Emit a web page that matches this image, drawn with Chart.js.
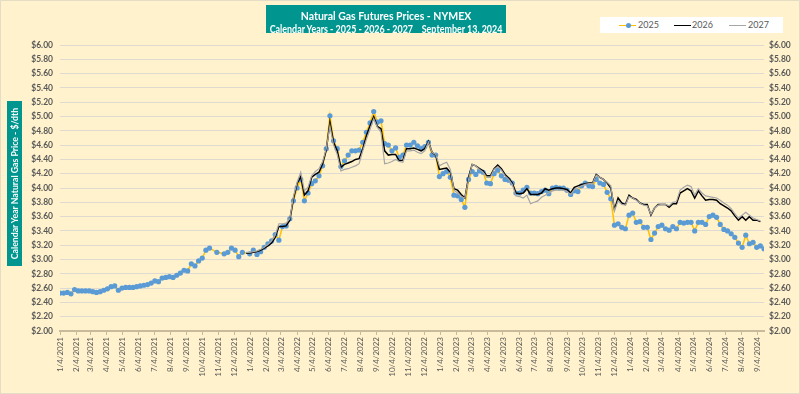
<!DOCTYPE html>
<html>
<head>
<meta charset="utf-8">
<script src="https://cdn.jsdelivr.net/npm/chart.js@4/dist/chart.umd.min.js"></script>
<style>
  body { margin: 0; background: #fff; }
  #wrap { position: relative; width: 800px; height: 394px; background: #FFF2CC; box-sizing: border-box; border: 1px solid #e4dcc4; overflow: hidden; }
  #c { position: absolute; left: 0; top: 0; }
  .teal { position: absolute; background: #00968F; color: #fff; font-family: Lato, sans-serif; font-weight: bold; text-align: center; white-space: pre; }
  #title { left: 265px; top: 4px; width: 240px; height: 28px; }
  #title .l1 { position: absolute; left: -40px; right: -40px; top: 4px; font-size: 12px; line-height: 14px; transform: scaleX(0.875); }
  #title .l2 { position: absolute; left: -40px; right: -40px; top: 18px; font-size: 10.5px; line-height: 12px; transform: scaleX(0.85); }
  #ytitle { left: -69px; top: 175px; width: 165px; height: 15px; }
  #ytitle span { position: absolute; left: -30px; right: -30px; top: 0; line-height: 15px; font-size: 10px; transform: scaleX(0.87); }
  #ytitle { transform: rotate(-90deg); }
  #legend { position: absolute; left: 599px; top: 16px; width: 183px; height: 16px; background: #fff; font-family: Lato, sans-serif; font-size: 9px; color: #595959; }
  #legend .sw { position: absolute; top: 7.5px; width: 17px; height: 0; border-top: 1.5px solid; }
  #legend .dot { position: absolute; top: 5.5px; width: 5px; height: 5px; border-radius: 50%; background: #5B9BD5; }
  #legend .tx { position: absolute; top: 2px; line-height: 12px; }
</style>
</head>
<body>
<div id="wrap">
  <canvas id="c" width="800" height="394"></canvas>
  <div id="title" class="teal">
    <div class="l1">Natural Gas Futures Prices - NYMEX</div>
    <div class="l2">Calendar Years - 2025 - 2026 - 2027    September 13, 2024</div>
  </div>
  <div id="ytitle" class="teal"><span>Calendar Year Natural Gas Price - $/dth</span></div>
  <div id="legend">
    <div class="sw" style="left:19px;border-color:#FFC000"></div>
    <div class="dot" style="left:25.5px"></div>
    <div class="tx" style="left:38px">2025</div>
    <div class="sw" style="left:74px;border-color:#000"></div>
    <div class="tx" style="left:92px">2026</div>
    <div class="sw" style="left:129px;border-color:#a6a6a6"></div>
    <div class="tx" style="left:148px">2027</div>
  </div>
</div>
<script>
// weekly settlement strip, first week = 1/4/2021
const firstWeek = '1/4/2021';

const price2025 = [
  2.53, 2.53, 2.54, 2.52, 2.58, 2.56, 2.56, 2.56, 2.56, 2.55,
  2.54, 2.55, 2.57, 2.59, 2.62, 2.63, 2.57, 2.60, 2.61, 2.61,
  2.61, 2.62, 2.63, 2.64, 2.65, 2.67, 2.70, 2.69, 2.74, 2.75,
  2.76, 2.75, 2.78, 2.81, 2.85, 2.84, 2.94, 2.91, 2.98, 3.02,
  3.13, 3.16, null, 3.10, null, 3.08, 3.10, 3.16, 3.13, 3.04,
  3.10, null, 3.08, 3.13, 3.07, 3.11, 3.17, 3.22, 3.26, 3.35,
  3.27, 3.46, 3.47, 3.57, 3.82, 4.00, 4.12, 3.82, 3.93, 4.06,
  4.10, 4.17, 4.31, 4.55, 5.01, 4.66, 4.55, 4.30, 4.38, 4.46,
  4.52, 4.52, 4.53, 4.64, 4.78, 4.91, 5.07, 4.92, 4.94, 4.62,
  4.60, 4.52, 4.56, 4.43, 4.46, 4.60, 4.60, 4.64, 4.59, 4.55,
  4.58, 4.64, 4.46, 4.46, 4.16, 4.20, 4.23, 4.15, 3.90, 3.89,
  3.84, 3.73, 4.12, 4.23, 4.19, 4.24, 4.22, 4.07, 4.06, 4.20,
  4.25, 4.17, 4.12, 4.11, 4.07, 3.93, 3.93, 3.97, 4.01, 3.93,
  3.93, 3.92, 3.95, 3.97, 3.92, 4.00, 4.01, 4.00, 4.00, 3.97,
  3.91, 3.96, 3.95, 4.03, 4.07, 4.03, 4.02, 4.12, 4.07, 4.05,
  3.94, 3.85, 3.48, 3.50, 3.45, 3.43, 3.62, 3.65, 3.52, 3.53,
  3.45, 3.45, 3.28, 3.37, 3.46, 3.48, 3.43, 3.41, 3.46, 3.43,
  3.52, 3.51, 3.52, 3.52, 3.40, 3.52, 3.52, 3.49, 3.60, 3.62,
  3.59, 3.49, 3.42, 3.40, 3.36, 3.31, 3.23, 3.17, 3.34, 3.22,
  3.24, 3.17, 3.19, 3.15
];

// 2026 and 2027 strips start in week 51 (late Dec 2021)
const start2026 = 51;
const price2026 = [
  3.09, 3.09, 3.10, 3.11, 3.13, 3.16, 3.19, 3.23, 3.31,
  3.46, 3.46, 3.47, 3.55, 3.85, 4.06, 4.16, 3.90, 3.96, 4.15,
  4.19, 4.22, 4.34, 4.53, 4.92, 4.64, 4.52, 4.29, 4.33, 4.35,
  4.37, 4.40, 4.41, 4.55, 4.73, 4.87, 5.00, 4.86, 4.83, 4.52,
  4.46, 4.47, 4.47, 4.38, 4.39, 4.55, 4.55, 4.56, 4.54, 4.52,
  4.55, 4.65, 4.50, 4.46, 4.26, 4.27, 4.28, 4.22, 3.99, 3.97,
  3.91, 3.86, 4.15, 4.33, 4.31, 4.27, 4.24, 4.17, 4.17, 4.27,
  4.32, 4.27, 4.19, 4.14, 4.07, 3.93, 3.92, 3.93, 3.99, 3.91,
  3.91, 3.91, 3.93, 3.99, 3.97, 3.99, 4.00, 4.00, 3.99, 3.98,
  3.93, 4.01, 4.03, 4.05, 4.06, 4.07, 4.07, 4.19, 4.15, 4.12,
  4.07, 4.00, 3.70, 3.86, 3.79, 3.77, 3.90, 3.86, 3.84, 3.79,
  3.77, 3.77, 3.62, 3.72, 3.77, 3.77, 3.77, 3.73, 3.78, 3.78,
  3.93, 3.96, 3.99, 3.96, 3.86, 3.96, 3.89, 3.83, 3.84, 3.84,
  3.83, 3.78, 3.75, 3.72, 3.68, 3.61, 3.55, 3.60, 3.55, 3.60,
  3.55, 3.55, 3.53
];

const start2027 = 51;
const price2027 = [
  3.10, 3.10, 3.11, 3.12, 3.14, 3.17, 3.21, 3.26, 3.34,
  3.50, 3.50, 3.51, 3.57, 3.88, 4.08, 4.22, 3.96, 4.01, 4.17,
  4.23, 4.27, 4.37, 4.55, 4.87, 4.60, 4.47, 4.24, 4.26, 4.27,
  4.29, 4.31, 4.34, 4.52, 4.68, 4.82, 4.97, 4.85, 4.78, 4.34,
  4.35, 4.37, 4.40, 4.37, 4.36, 4.52, 4.52, 4.53, 4.50, 4.48,
  4.52, 4.64, 4.50, 4.47, 4.31, 4.34, 4.36, 4.26, 3.97, 3.93,
  3.88, 3.86, 4.12, 4.33, 4.31, 4.26, 4.22, 4.15, 4.15, 4.26,
  4.30, 4.25, 4.17, 4.12, 4.05, 3.89, 3.88, 3.86, 3.90, 3.78,
  3.80, 3.82, 3.87, 3.90, 3.93, 3.96, 3.97, 3.97, 3.97, 3.95,
  3.91, 3.98, 4.00, 4.03, 4.05, 4.06, 4.06, 4.18, 4.15, 4.12,
  4.08, 4.03, 3.68, 3.82, 3.77, 3.76, 3.88, 3.86, 3.83, 3.79,
  3.76, 3.75, 3.63, 3.72, 3.76, 3.77, 3.77, 3.75, 3.80, 3.81,
  3.97, 4.01, 4.04, 4.02, 3.90, 3.99, 3.93, 3.89, 3.88, 3.87,
  3.86, 3.83, 3.79, 3.76, 3.71, 3.64, 3.58, 3.62, 3.66, 3.62,
  3.58, 3.56, 3.54
];

const xTickLabels = [
  '1/4/2021', '2/4/2021', '3/4/2021', '4/4/2021', '5/4/2021', '6/4/2021',
  '7/4/2021', '8/4/2021', '9/4/2021', '10/4/2021', '11/4/2021', '12/4/2021',
  '1/4/2022', '2/4/2022', '3/4/2022', '4/4/2022', '5/4/2022', '6/4/2022',
  '7/4/2022', '8/4/2022', '9/4/2022', '10/4/2022', '11/4/2022', '12/4/2022',
  '1/4/2023', '2/4/2023', '3/4/2023', '4/4/2023', '5/4/2023', '6/4/2023',
  '7/4/2023', '8/4/2023', '9/4/2023', '10/4/2023', '11/4/2023', '12/4/2023',
  '1/4/2024', '2/4/2024', '3/4/2024', '4/4/2024', '5/4/2024', '6/4/2024',
  '7/4/2024', '8/4/2024', '9/4/2024'
];

const yTicks = { min: 2, max: 6, step: 0.2 };

function toUtc(s) {
  const p = s.split('/').map(Number);
  return Date.UTC(p[2], p[0] - 1, p[1]);
}
const t0 = toUtc(firstWeek);
const dayOf = s => Math.round((toUtc(s) - t0) / 86400000);
const tickDays = xTickLabels.map(dayOf);

function weekly(values, startWeek) {
  return values.map((v, i) => ({ x: (startWeek + i) * 7, y: v }));
}

const tickFont = { family: 'Lato, sans-serif', size: 8 };
const yFont = { family: 'Lato, sans-serif', size: 8.5, weight: 'bold' };
const yAxis = (pos, w) => ({
  position: pos,
  min: yTicks.min,
  max: yTicks.max,
  ticks: {
    stepSize: yTicks.step,
    autoSkip: false,
    callback: v => '$' + v.toFixed(2),
    color: '#595959',
    font: yFont,
    padding: pos === 'left' ? 7 : 5
  },
  grid: { display: pos === 'left', color: '#dedad2', lineWidth: 1, drawTicks: false },
  border: { display: false },
  afterFit: s => { s.width = w; }
});

new Chart(document.getElementById('c'), {
  type: 'line',
  data: {
    datasets: [
      {
        label: '2025',
        data: weekly(price2025, 0),
        borderColor: '#FFC000',
        borderWidth: 1.5,
        pointRadius: 2.6,
        pointBackgroundColor: '#5B9BD5',
        pointBorderWidth: 0,
        spanGaps: true,
        order: 3
      },
      {
        label: '2026',
        data: weekly(price2026, start2026),
        borderColor: '#000000',
        borderWidth: 1.5,
        pointRadius: 0,
        order: 2
      },
      {
        label: '2027',
        data: weekly(price2027, start2027),
        borderColor: '#A6A6A6',
        borderWidth: 1.2,
        pointRadius: 0,
        order: 1
      }
    ]
  },
  options: {
    responsive: false,
    animation: false,
    events: [],
    layout: { padding: { top: 44, left: 0, right: 0, bottom: 0 } },
    plugins: { legend: { display: false }, tooltip: { enabled: false } },
    scales: {
      x: {
        type: 'linear',
        min: 0,
        max: 1351,
        afterBuildTicks: s => { s.ticks = tickDays.map(d => ({ value: d })); },
        ticks: {
          autoSkip: false,
          maxRotation: 90,
          minRotation: 90,
          callback: (v, i) => xTickLabels[i],
          color: '#595959',
          font: tickFont,
          padding: 2
        },
        grid: { drawOnChartArea: false, drawTicks: true, tickLength: 4, color: '#c8bb9b' },
        border: { color: '#c8bb9b', width: 2 },
        afterFit: s => { s.height = 64; }
      },
      y: yAxis('left', 59),
      y2: yAxis('right', 37)
    }
  }
});
</script>
</body>
</html>
